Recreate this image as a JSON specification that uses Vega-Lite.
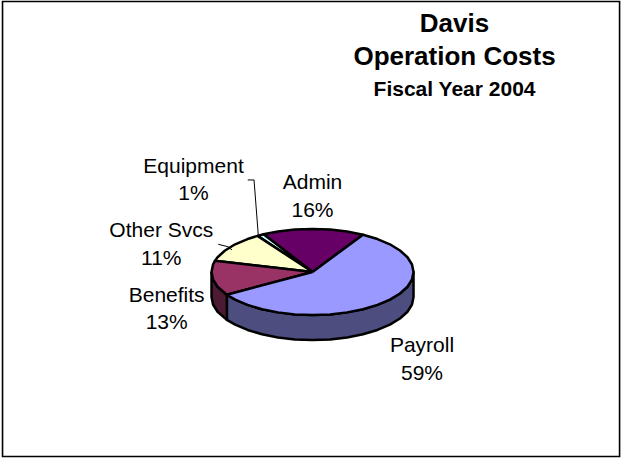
{"$schema":"https://vega.github.io/schema/vega-lite/v6.json","width":622,"height":458,"padding":0,"autosize":{"type":"fit","contains":"padding"},"background":"white","view":{"stroke":null},
"datasets":{
"frame":[{"x":-3.069,"x2":3.04,"y":2.678,"y2":-1.827}],
"slices":[
{"part":"Payroll wall","i":0,"x":-0.848,"y":-0.226},{"part":"Payroll wall","i":1,"x":-0.766,"y":-0.274},{"part":"Payroll wall","i":2,"x":-0.643,"y":-0.326},{"part":"Payroll wall","i":3,"x":-0.5,"y":-0.369},{"part":"Payroll wall","i":4,"x":-0.342,"y":-0.4},{"part":"Payroll wall","i":5,"x":-0.174,"y":-0.42},{"part":"Payroll wall","i":6,"x":0,"y":-0.426},{"part":"Payroll wall","i":7,"x":0.174,"y":-0.42},{"part":"Payroll wall","i":8,"x":0.342,"y":-0.4},{"part":"Payroll wall","i":9,"x":0.5,"y":-0.369},{"part":"Payroll wall","i":10,"x":0.643,"y":-0.326},{"part":"Payroll wall","i":11,"x":0.766,"y":-0.274},{"part":"Payroll wall","i":12,"x":0.866,"y":-0.213},{"part":"Payroll wall","i":13,"x":0.94,"y":-0.146},{"part":"Payroll wall","i":14,"x":0.985,"y":-0.074},{"part":"Payroll wall","i":15,"x":1,"y":0},
{"part":"Payroll wall","i":16,"x":1,"y":-0.248},{"part":"Payroll wall","i":17,"x":0.985,"y":-0.322},{"part":"Payroll wall","i":18,"x":0.94,"y":-0.394},{"part":"Payroll wall","i":19,"x":0.866,"y":-0.461},{"part":"Payroll wall","i":20,"x":0.766,"y":-0.522},{"part":"Payroll wall","i":21,"x":0.643,"y":-0.574},{"part":"Payroll wall","i":22,"x":0.5,"y":-0.617},{"part":"Payroll wall","i":23,"x":0.342,"y":-0.648},{"part":"Payroll wall","i":24,"x":0.174,"y":-0.668},{"part":"Payroll wall","i":25,"x":0,"y":-0.674},{"part":"Payroll wall","i":26,"x":-0.174,"y":-0.668},{"part":"Payroll wall","i":27,"x":-0.342,"y":-0.648},{"part":"Payroll wall","i":28,"x":-0.5,"y":-0.617},{"part":"Payroll wall","i":29,"x":-0.643,"y":-0.574},{"part":"Payroll wall","i":30,"x":-0.766,"y":-0.522},{"part":"Payroll wall","i":31,"x":-0.848,"y":-0.474},{"part":"Payroll wall","i":32,"x":-0.848,"y":-0.226},
{"part":"Benefits wall","i":0,"x":-1,"y":0},{"part":"Benefits wall","i":1,"x":-0.985,"y":-0.074},{"part":"Benefits wall","i":2,"x":-0.94,"y":-0.146},{"part":"Benefits wall","i":3,"x":-0.848,"y":-0.226},{"part":"Benefits wall","i":4,"x":-0.848,"y":-0.474},{"part":"Benefits wall","i":5,"x":-0.94,"y":-0.394},{"part":"Benefits wall","i":6,"x":-0.985,"y":-0.322},{"part":"Benefits wall","i":7,"x":-1,"y":-0.248},{"part":"Benefits wall","i":8,"x":-1,"y":0},
{"part":"Admin","i":0,"x":0,"y":0},{"part":"Admin","i":1,"x":-0.485,"y":0.373},{"part":"Admin","i":2,"x":-0.342,"y":0.4},{"part":"Admin","i":3,"x":-0.174,"y":0.42},{"part":"Admin","i":4,"x":0,"y":0.426},{"part":"Admin","i":5,"x":0.174,"y":0.42},{"part":"Admin","i":6,"x":0.342,"y":0.4},{"part":"Admin","i":7,"x":0.5,"y":0.369},{"part":"Admin","i":8,"x":0,"y":0},
{"part":"Equipment","i":0,"x":0,"y":0},{"part":"Equipment","i":1,"x":-0.545,"y":0.357},{"part":"Equipment","i":2,"x":-0.485,"y":0.373},{"part":"Equipment","i":3,"x":0,"y":0},
{"part":"Other Svcs","i":0,"x":0,"y":0},{"part":"Other Svcs","i":1,"x":-0.966,"y":0.11},{"part":"Other Svcs","i":2,"x":-0.94,"y":0.146},{"part":"Other Svcs","i":3,"x":-0.866,"y":0.213},{"part":"Other Svcs","i":4,"x":-0.766,"y":0.274},{"part":"Other Svcs","i":5,"x":-0.643,"y":0.326},{"part":"Other Svcs","i":6,"x":-0.545,"y":0.357},{"part":"Other Svcs","i":7,"x":0,"y":0},
{"part":"Benefits","i":0,"x":0,"y":0},{"part":"Benefits","i":1,"x":-0.848,"y":-0.226},{"part":"Benefits","i":2,"x":-0.94,"y":-0.146},{"part":"Benefits","i":3,"x":-0.985,"y":-0.074},{"part":"Benefits","i":4,"x":-1,"y":0},{"part":"Benefits","i":5,"x":-0.985,"y":0.074},{"part":"Benefits","i":6,"x":-0.966,"y":0.11},{"part":"Benefits","i":7,"x":0,"y":0},
{"part":"Payroll","i":0,"x":0,"y":0},{"part":"Payroll","i":1,"x":0.5,"y":0.369},{"part":"Payroll","i":2,"x":0.643,"y":0.326},{"part":"Payroll","i":3,"x":0.766,"y":0.274},{"part":"Payroll","i":4,"x":0.866,"y":0.213},{"part":"Payroll","i":5,"x":0.94,"y":0.146},{"part":"Payroll","i":6,"x":0.985,"y":0.074},{"part":"Payroll","i":7,"x":1,"y":0},{"part":"Payroll","i":8,"x":0.985,"y":-0.074},{"part":"Payroll","i":9,"x":0.94,"y":-0.146},{"part":"Payroll","i":10,"x":0.866,"y":-0.213},{"part":"Payroll","i":11,"x":0.766,"y":-0.274},{"part":"Payroll","i":12,"x":0.643,"y":-0.326},{"part":"Payroll","i":13,"x":0.5,"y":-0.369},{"part":"Payroll","i":14,"x":0.342,"y":-0.4},{"part":"Payroll","i":15,"x":0.174,"y":-0.42},{"part":"Payroll","i":16,"x":0,"y":-0.426},{"part":"Payroll","i":17,"x":-0.174,"y":-0.42},{"part":"Payroll","i":18,"x":-0.342,"y":-0.4},{"part":"Payroll","i":19,"x":-0.5,"y":-0.369},{"part":"Payroll","i":20,"x":-0.643,"y":-0.326},{"part":"Payroll","i":21,"x":-0.766,"y":-0.274},{"part":"Payroll","i":22,"x":-0.848,"y":-0.226},{"part":"Payroll","i":23,"x":0,"y":0}
],
"leaders":[
{"leader":"Equipment","i":0,"x":-0.641,"y":0.911},{"leader":"Equipment","i":1,"x":-0.579,"y":0.911},{"leader":"Equipment","i":2,"x":-0.537,"y":0.366},
{"leader":"Other Svcs","i":0,"x":-0.933,"y":0.274},{"leader":"Other Svcs","i":1,"x":-0.837,"y":0.25},{"leader":"Other Svcs","i":2,"x":-0.797,"y":0.218}
],
"labels":[
{"name":"Payroll","share":"59%","x":1.084,"yName":-0.792,"yShare":-1.069},
{"name":"Admin","share":"16%","x":0,"yName":0.822,"yShare":0.548},
{"name":"Equipment","share":"1%","x":-1.178,"yName":0.983,"yShare":0.713},
{"name":"Other Svcs","share":"11%","x":-1.497,"yName":0.35,"yShare":0.069},
{"name":"Benefits","share":"13%","x":-1.444,"yName":-0.294,"yShare":-0.564}
],
"titles":[
{"text":"Davis","size":26,"x":1.406,"y":2.376},
{"text":"Operation Costs","size":26,"x":1.406,"y":2.05},
{"text":"Fiscal Year 2004","size":21,"x":1.406,"y":1.738}
]},
"encoding":{
"x":{"field":"x","type":"quantitative","axis":null,"scale":{"domain":[-3.094,3.064],"nice":false,"zero":false}},
"y":{"field":"y","type":"quantitative","axis":null,"scale":{"domain":[-1.842,2.693],"nice":false,"zero":false}}
},
"layer":[
{"data":{"name":"frame"},"mark":{"type":"rect","fill":"white","stroke":"black","strokeWidth":1.6},"encoding":{"x2":{"field":"x2"},"y2":{"field":"y2"}}},
{"data":{"name":"slices"},"mark":{"type":"line","stroke":"black","strokeWidth":2.5,"strokeJoin":"round"},"encoding":{
"fill":{"field":"part","type":"nominal","legend":null,"sort":null,"scale":{"domain":["Payroll wall","Benefits wall","Admin","Equipment","Other Svcs","Benefits","Payroll"],"range":["#4D4D80","#4D1A33","#660066","#CCFFFF","#FFFFCC","#993366","#9999FF"]}},
"order":{"field":"i","type":"quantitative"}}},
{"data":{"name":"leaders"},"mark":{"type":"line","stroke":"black","strokeWidth":1},"encoding":{"detail":{"field":"leader"},"order":{"field":"i","type":"quantitative"}}},
{"data":{"name":"labels"},"mark":{"type":"text","font":"Liberation Sans","fontSize":21,"align":"center","baseline":"alphabetic","color":"black"},"encoding":{"y":{"field":"yName","type":"quantitative"},"text":{"field":"name"}}},
{"data":{"name":"labels"},"mark":{"type":"text","font":"Liberation Sans","fontSize":21,"align":"center","baseline":"alphabetic","color":"black"},"encoding":{"y":{"field":"yShare","type":"quantitative"},"text":{"field":"share"}}},
{"data":{"name":"titles"},"mark":{"type":"text","font":"Liberation Sans","fontWeight":"bold","align":"center","baseline":"alphabetic","color":"black"},"encoding":{"text":{"field":"text"},"size":{"field":"size","type":"quantitative","scale":null,"legend":null}}}
]}
